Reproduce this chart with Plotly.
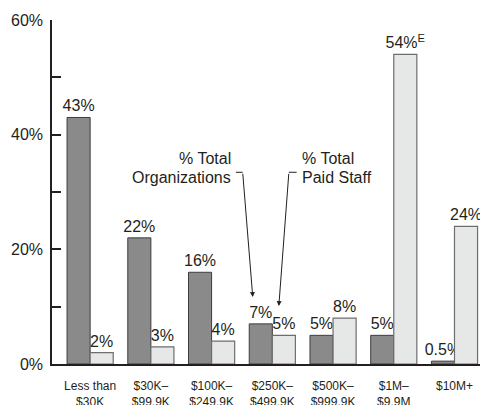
import plotly.graph_objects as go

categories = ["Less than<br>$30K", "$30K–<br>$99.9K", "$100K–<br>$249.9K", "$250K–<br>$499.9K",
              "$500K–<br>$999.9K", "$1M–<br>$9.9M", "$10M+"]
pct_orgs = [43, 22, 16, 7, 5, 5, 0.5]
pct_staff = [2, 3, 4, 5, 8, 54, 24]
orgs_labels = ["43%", "22%", "16%", "7%", "5%", "5%", "0.5%"]
staff_labels = ["2%", "3%", "4%", "5%", "8%", "54%<sup>E</sup>", "24%"]
y_ticks = [0, 20, 40, 60]
y_tick_text = ["0%", "20%", "40%", "60%"]

FONT = "Liberation Sans, Arial, sans-serif"
INK = "#231f20"
x = list(range(len(categories)))

fig = go.Figure()
fig.add_bar(x=x, y=pct_orgs, text=orgs_labels, textposition="outside", cliponaxis=False,
            marker=dict(color="#8a8a8a", line=dict(color="#3c3c3c", width=1)),
            textfont=dict(size=16, color=INK, family=FONT), name="% Total Organizations")
fig.add_bar(x=x, y=pct_staff, text=staff_labels, textposition="outside", cliponaxis=False,
            marker=dict(color="#e6e7e7", line=dict(color="#6e6e6e", width=1.2)),
            textfont=dict(size=16, color=INK, family=FONT), name="% Total Paid Staff")

fig.update_layout(
    width=480, height=405, barmode="group", bargap=0.24, bargroupgap=0,
    showlegend=False, plot_bgcolor="white", paper_bgcolor="white",
    margin=dict(l=52, r=0, t=19.5, b=41, autoexpand=False),
    uniformtext=dict(minsize=16, mode="show"),
    font=dict(family=FONT, color=INK),
    xaxis=dict(range=[-0.628, 6.42], tickvals=x, ticktext=categories, showline=True,
               linecolor=INK, linewidth=2, ticks="", showgrid=False, zeroline=False,
               automargin=False, ticklabelstandoff=10,
               tickfont=dict(size=12, color=INK, family=FONT)),
    yaxis=dict(range=[0, 60], tickvals=y_ticks, ticktext=y_tick_text, showline=True,
               linecolor=INK, linewidth=1.5, ticks="inside", ticklen=9, tickwidth=1.5,
               tickcolor=INK, showgrid=False, zeroline=False, automargin=False,
               ticklabelstandoff=4,
               minor=dict(ticks="inside", ticklen=9, tickwidth=1.5, tickcolor=INK, dtick=10),
               tickfont=dict(size=16, color=INK, family=FONT)),
)

# truncated title (only descenders visible in the original)
fig.add_annotation(text="Organizations and Staff by Size", xref="paper", yref="paper",
                   x=0.458, y=1, yanchor="bottom", yshift=18.5, showarrow=False,
                   font=dict(size=14, color=INK, family=FONT))

# callout labels
for txt, yy in [("% Total", 35.8), ("Organizations", 32.6)]:
    fig.add_annotation(text=txt, x=2.36, y=yy, xanchor="right", yanchor="middle",
                       showarrow=False, font=dict(size=16, color=INK, family=FONT))
for txt, yy in [("% Total", 35.8), ("Paid Staff", 32.6)]:
    fig.add_annotation(text=txt, x=3.45, y=yy, xanchor="left", yanchor="middle",
                       showarrow=False, font=dict(size=16, color=INK, family=FONT))

# leader lines with arrows
fig.add_shape(type="line", x0=2.40, x1=2.512, y0=33.44, y1=33.44, line=dict(color=INK, width=1))
fig.add_annotation(x=2.678, y=11.67, ax=2.512, ay=33.44, axref="x", ayref="y", text="",
                   showarrow=True, arrowhead=2, arrowsize=1, arrowwidth=1, arrowcolor=INK)
fig.add_shape(type="line", x0=3.273, x1=3.40, y0=33.44, y1=33.44, line=dict(color=INK, width=1))
fig.add_annotation(x=3.107, y=10.1, ax=3.273, ay=33.44, axref="x", ayref="y", text="",
                   showarrow=True, arrowhead=2, arrowsize=1, arrowwidth=1, arrowcolor=INK)

fig.write_html("out.html", config={"displayModeBar": False},
               post_script="document.body.style.margin='0';")
